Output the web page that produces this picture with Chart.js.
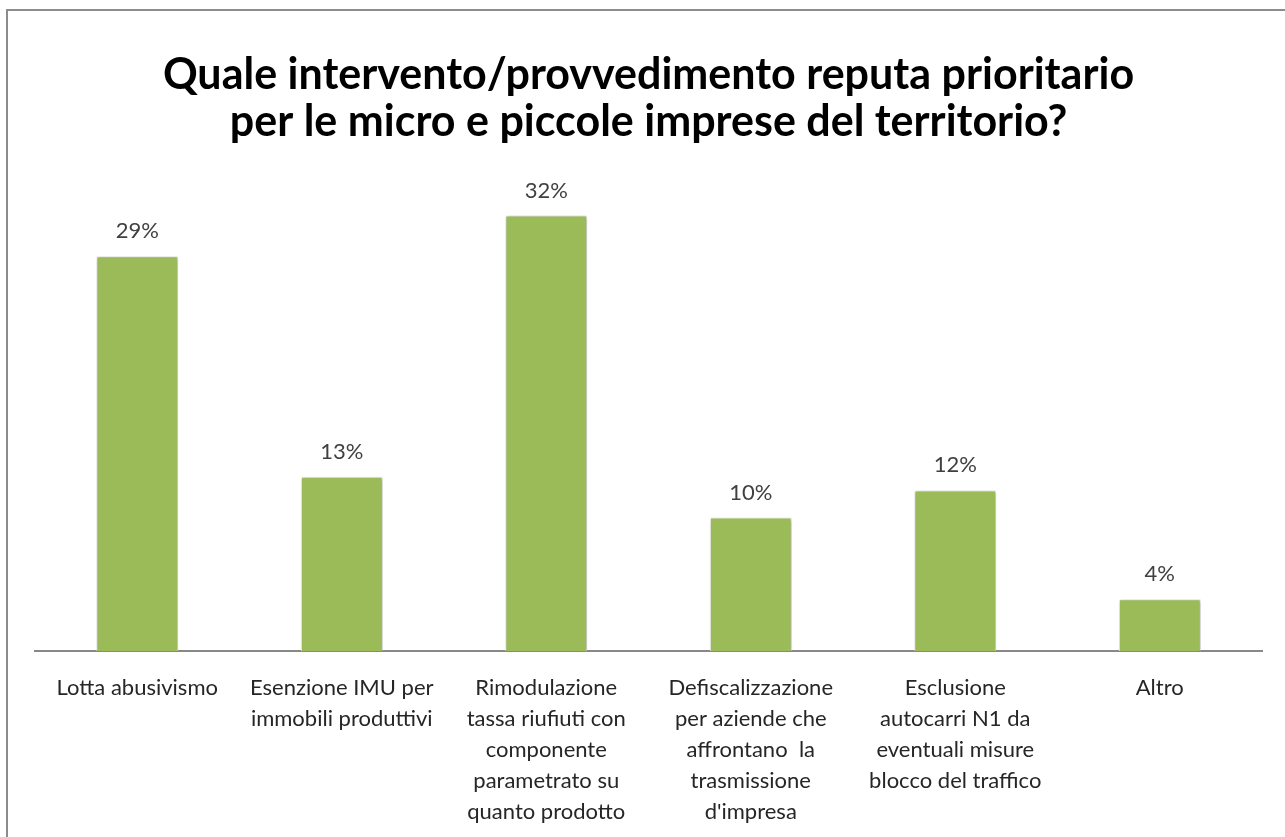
<!DOCTYPE html>
<html>
<head>
<meta charset="utf-8">
<script src="https://cdn.jsdelivr.net/npm/chart.js@4/dist/chart.umd.min.js"></script>
<style>
  html, body { margin: 0; padding: 0; background: #ffffff; }
  #wrap { width: 1285px; height: 837px; position: relative; }
</style>
</head>
<body>
<div id="wrap"><canvas id="c" width="1285" height="837"></canvas></div>
<script>
const titleLines = [
  "Quale intervento/provvedimento reputa prioritario",
  "per le micro e piccole imprese del territorio?"
];
const categories = [
  ["Lotta abusivismo"],
  ["Esenzione IMU per", "immobili produttivi"],
  ["Rimodulazione", "tassa riufiuti con", "componente", "parametrato su", "quanto prodotto"],
  ["Defiscalizzazione", "per aziende che", "affrontano  la", "trasmissione", "d'impresa"],
  ["Esclusione", "autocarri N1 da", "eventuali misure", "blocco del traffico"],
  ["Altro"]
];
const values = [29.0, 12.8, 32.0, 9.8, 11.8, 3.8];
const valueLabels = ["29%", "13%", "32%", "10%", "12%", "4%"];

const FONT = "Lato, 'Open Sans', sans-serif";

const framePlugin = {
  id: 'frame',
  beforeDraw(chart) {
    const ctx = chart.ctx;
    ctx.save();
    ctx.fillStyle = '#ffffff';
    ctx.fillRect(0, 0, chart.width, chart.height);
    ctx.fillStyle = '#8c8c8c';
    ctx.fillRect(6, 9, 2, chart.height - 9);
    ctx.fillRect(6, 9, chart.width - 6, 2);
    ctx.restore();
  }
};

const shadowPlugin = {
  id: 'barShadow',
  beforeDatasetsDraw(chart) {
    const ctx = chart.ctx;
    ctx.save();
    ctx.shadowColor = 'rgba(0,0,0,0.35)';
    ctx.shadowBlur = 4;
    ctx.shadowOffsetX = 1;
    ctx.shadowOffsetY = 1;
  },
  afterDatasetsDraw(chart) {
    chart.ctx.restore();
  }
};

const valueLabelPlugin = {
  id: 'valueLabels',
  afterDatasetsDraw(chart) {
    const ctx = chart.ctx;
    const meta = chart.getDatasetMeta(0);
    ctx.save();
    ctx.font = "22px " + FONT;
    ctx.fillStyle = '#404040';
    ctx.textAlign = 'center';
    ctx.textBaseline = 'middle';
    meta.data.forEach((bar, i) => {
      ctx.fillText(valueLabels[i], bar.x, bar.y - 25);
    });
    ctx.restore();
  }
};

new Chart(document.getElementById('c'), {
  type: 'bar',
  data: {
    labels: categories,
    datasets: [{
      data: values,
      backgroundColor: '#9BBB59',
      borderColor: '#ffffff',
      borderWidth: 1,
      barPercentage: 0.4,
      categoryPercentage: 1.0
    }]
  },
  options: {
    responsive: false,
    animation: false,
    layout: { padding: { left: 35, right: 23, top: 0, bottom: 0 } },
    plugins: {
      legend: { display: false },
      tooltip: { enabled: false },
      title: {
        display: true,
        text: titleLines,
        color: '#000000',
        font: { family: FONT, size: 43, weight: 'bold', lineHeight: 1.1 },
        padding: { top: 51, bottom: 29 }
      }
    },
    scales: {
      x: {
        grid: { display: false },
        border: { display: true, color: '#888888', width: 2 },
        ticks: {
          color: '#262626',
          font: { family: FONT, size: 22, lineHeight: 1.4 },
          maxRotation: 0,
          minRotation: 0,
          autoSkip: false,
          padding: 14
        },
        afterFit(scale) { scale.height = 186; }
      },
      y: {
        display: false,
        min: 0,
        max: 35
      }
    }
  },
  plugins: [framePlugin, shadowPlugin, valueLabelPlugin]
});
</script>
</body>
</html>
